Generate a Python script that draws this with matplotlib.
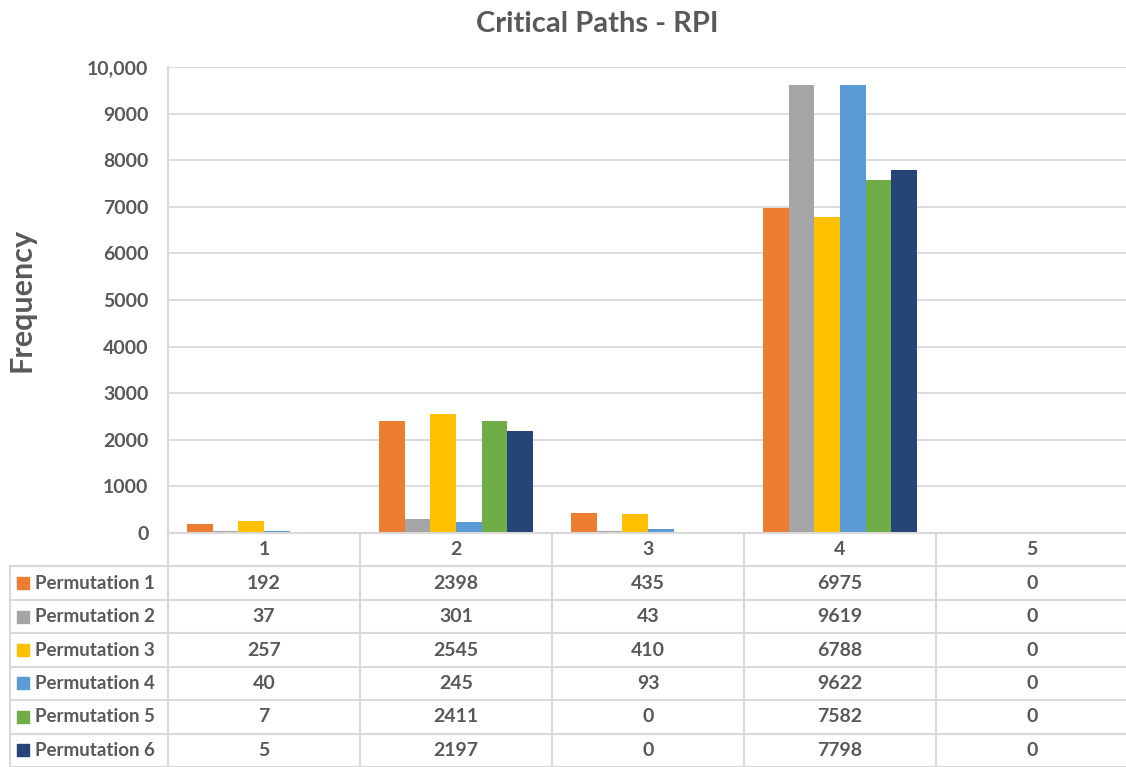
import numpy as np
import matplotlib
matplotlib.use('Agg')
import matplotlib.pyplot as plt
from matplotlib.ticker import FuncFormatter

plt.rcParams['font.family'] = ['Lato', 'DejaVu Sans']
plt.rcParams['font.weight'] = 'bold'

categories = ['1', '2', '3', '4', '5']
series_names = ['Permutation 1', 'Permutation 2', 'Permutation 3',
                'Permutation 4', 'Permutation 5', 'Permutation 6']
perm1 = [192, 2398, 435, 6975, 0]
perm2 = [37, 301, 43, 9619, 0]
perm3 = [257, 2545, 410, 6788, 0]
perm4 = [40, 245, 93, 9622, 0]
perm5 = [7, 2411, 0, 7582, 0]
perm6 = [5, 2197, 0, 7798, 0]
series = [perm1, perm2, perm3, perm4, perm5, perm6]
colors = ['#ED7D31', '#A5A5A5', '#FFC000', '#5B9BD5', '#70AD47', '#264478']

W, H = 1126, 767
txt = '#595959'
line_c = '#D9D9D9'
fs = 14

fig = plt.figure(figsize=(W / 100, H / 100), dpi=100)

# chart area
ax = fig.add_axes([168 / W, 1 - 533 / H, 960 / W, 466 / H])
x = np.arange(len(categories))
bw = 0.1333
for i, (vals, c) in enumerate(zip(series, colors)):
    ax.bar(x + (i - 2.5) * bw, vals, width=bw, color=c, zorder=3)

ax.set_xlim(-0.5, 4.5)
ax.set_ylim(0, 10000)
ax.set_yticks(np.arange(0, 10001, 1000))
ax.yaxis.set_major_formatter(FuncFormatter(lambda v, p: '{:,.0f}'.format(v) if v >= 10000 else '%d' % v))
ax.set_xticks([])
ax.tick_params(axis='y', length=0, pad=14, labelsize=fs, labelcolor=txt)
ax.grid(axis='y', color=line_c, lw=1.3, zorder=0)
for s in ['top', 'right']:
    ax.spines[s].set_visible(False)
for s in ['left', 'bottom']:
    ax.spines[s].set_color(line_c)
    ax.spines[s].set_linewidth(1.5)

# data table under the chart
tax = fig.add_axes([10 / W, 0, 1118 / W, 234 / H])
left = -0.5 - 158 / 192
tax.set_xlim(left, 4.5)
tax.set_ylim(7, 0)
tax.axis('off')

tax.plot([-0.5, 4.5], [0, 0], color=line_c, lw=1.5, clip_on=False)
for r in range(1, 8):
    tax.plot([left, 4.5], [r, r], color=line_c, lw=1.5, clip_on=False)
for k in range(6):
    tax.plot([-0.5 + k, -0.5 + k], [0, 7], color=line_c, lw=1.5, clip_on=False)
tax.plot([left, left], [1, 7], color=line_c, lw=1.5, clip_on=False)

for j, cat in enumerate(categories):
    tax.text(j, 0.5, cat, ha='center', va='center', fontsize=fs, color=txt)

for i, (name, vals, c) in enumerate(zip(series_names, series, colors)):
    yr = i + 1.5
    tax.scatter([left + 0.066], [yr], marker='s', s=75, color=c, clip_on=False)
    tax.text(left + 0.128, yr, name, ha='left', va='center', fontsize=13.5, color=txt)
    for j, v in enumerate(vals):
        tax.text(j, yr, str(v), ha='center', va='center', fontsize=fs, color=txt)

fig.text(597 / W, 1 - 24 / H, 'Critical Paths - RPI', ha='center', va='center',
         fontsize=21, color=txt)
fig.text(22 / W, 1 - 300 / H, 'Frequency', ha='center', va='center',
         rotation=90, fontsize=22, color=txt)

fig.savefig('out.png', dpi=100)
